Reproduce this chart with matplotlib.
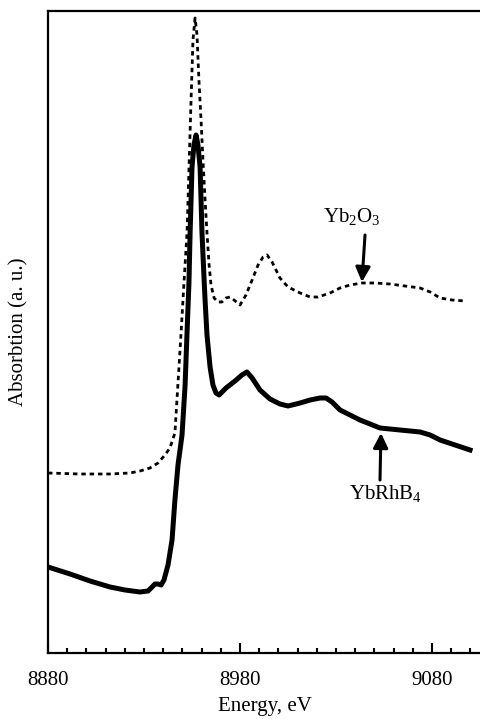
import matplotlib
matplotlib.use('Agg')
import matplotlib.pyplot as plt

plt.rcParams['font.family'] = ['Liberation Serif', 'DejaVu Serif']
plt.rcParams['mathtext.fontset'] = 'custom'
plt.rcParams['mathtext.rm'] = 'Liberation Serif'
plt.rcParams['mathtext.it'] = 'Liberation Serif:italic'

# YbRhB4 (thick solid)
e_rhb4 = [8880.0, 8891.5, 8901.9, 8912.3, 8920.1, 8927.9, 8932.1, 8934.2, 8935.7, 8937.3,
          8938.9, 8940.4, 8942.5, 8944.6, 8946.1, 8947.7, 8949.8, 8951.4, 8952.4, 8953.4,
          8954.0, 8955.0, 8956.0, 8957.1, 8958.1, 8959.2, 8960.2, 8961.3, 8961.8, 8962.8,
          8964.4, 8965.9, 8967.5, 8969.1, 8972.7, 8977.4, 8981.0, 8983.6, 8986.3, 8990.4,
          8995.6, 9000.8, 9005.0, 9011.3, 9016.5, 9021.7, 9024.8, 9027.9, 9032.1, 9037.3,
          9042.5, 9047.7, 9052.9, 9063.3, 9073.8, 9079.0, 9084.2, 9092.0, 9099.8]
a_rhb4 = [0.86, 0.79, 0.72, 0.66, 0.63, 0.61, 0.62, 0.66, 0.69, 0.69,
          0.68, 0.73, 0.88, 1.13, 1.53, 1.88, 2.18, 2.68, 3.20, 3.70,
          4.20, 4.86, 5.08, 5.18, 5.08, 4.86, 4.20, 3.73, 3.53, 3.18,
          2.86, 2.68, 2.60, 2.58, 2.65, 2.72, 2.78, 2.81, 2.75, 2.63,
          2.54, 2.49, 2.47, 2.50, 2.53, 2.55, 2.55, 2.51, 2.43, 2.38,
          2.33, 2.29, 2.25, 2.23, 2.21, 2.18, 2.13, 2.08, 2.03]

# Yb2O3 (dotted)
e_oxide = [8880.0, 8896.7, 8912.3, 8922.7, 8927.9, 8933.1, 8937.3, 8940.9, 8943.5, 8946.1,
           8947.7, 8949.3, 8950.8, 8952.4, 8953.4, 8954.5, 8955.5, 8956.6, 8957.6, 8958.6,
           8959.7, 8960.7, 8961.8, 8962.8, 8963.9, 8964.9, 8966.5, 8968.5, 8970.6, 8972.7,
           8974.8, 8976.9, 8980.0, 8983.1, 8986.3, 8989.4, 8992.0, 8994.1, 8996.7, 9000.8,
           9005.0, 9011.3, 9016.5, 9020.6, 9026.9, 9032.1, 9037.3, 9043.5, 9050.3, 9058.1,
           9065.9, 9073.8, 9079.0, 9084.2, 9090.4, 9097.2]
a_oxide = [1.80, 1.79, 1.79, 1.80, 1.82, 1.85, 1.90, 1.98, 2.05, 2.20,
           2.70, 3.20, 3.70, 4.20, 4.83, 5.53, 6.13, 6.35, 6.18, 5.73,
           5.33, 4.93, 4.53, 4.20, 3.88, 3.68, 3.55, 3.51, 3.51, 3.55,
           3.56, 3.53, 3.48, 3.58, 3.73, 3.88, 3.96, 3.98, 3.91, 3.75,
           3.66, 3.60, 3.56, 3.56, 3.60, 3.65, 3.68, 3.70, 3.70, 3.69,
           3.67, 3.65, 3.61, 3.55, 3.53, 3.52]

major_ticks = [8880, 8980, 9080]
minor_ticks = list(range(8880, 9106, 10))

fig = plt.figure(figsize=(4.81, 7.19), dpi=100)
ax = fig.add_axes([48/481, 66/719, 1 - 48/481, 642/719])

ax.plot(e_rhb4, a_rhb4, color='k', lw=3.6, solid_joinstyle='round')
ax.plot(e_oxide, a_oxide, color='k', lw=2.0, linestyle=(0, (1.6, 1.4)))

ax.set_xlim(8880, 9105.5)
ax.set_ylim(0, 6.42)

ax.spines['right'].set_visible(False)
for s in ['left', 'bottom', 'top']:
    ax.spines[s].set_linewidth(1.6)

ax.set_xticks(major_ticks)
ax.set_xticks(minor_ticks, minor=True)
ax.tick_params(axis='x', which='major', direction='in', length=7, width=1.5,
               labelsize=15, pad=13, top=False)
ax.tick_params(axis='x', which='minor', direction='in', length=3.5, width=1.5, top=False)
ax.set_yticks([])

ax.set_xlabel('Energy, eV', fontsize=15, labelpad=5)
ax.set_ylabel('Absorbtion (a. u.)', fontsize=15, labelpad=14)

arrow = dict(arrowstyle='-|>', lw=2.2, color='k', mutation_scale=22, shrinkA=0, shrinkB=0)
ax.annotate('', xy=(9043.5, 3.71), xytext=(9045.1, 4.18), arrowprops=arrow)
ax.annotate('', xy=(9053.4, 2.20), xytext=(9052.9, 1.73), arrowprops=arrow)
ax.text(9038.3, 4.36, r'Yb$_\mathregular{2}$O$_\mathregular{3}$', fontsize=15,
        ha='center', va='center')
ax.text(9055.5, 1.60, r'YbRhB$_\mathregular{4}$', fontsize=15, ha='center', va='center')

fig.savefig('out.png', dpi=100)
